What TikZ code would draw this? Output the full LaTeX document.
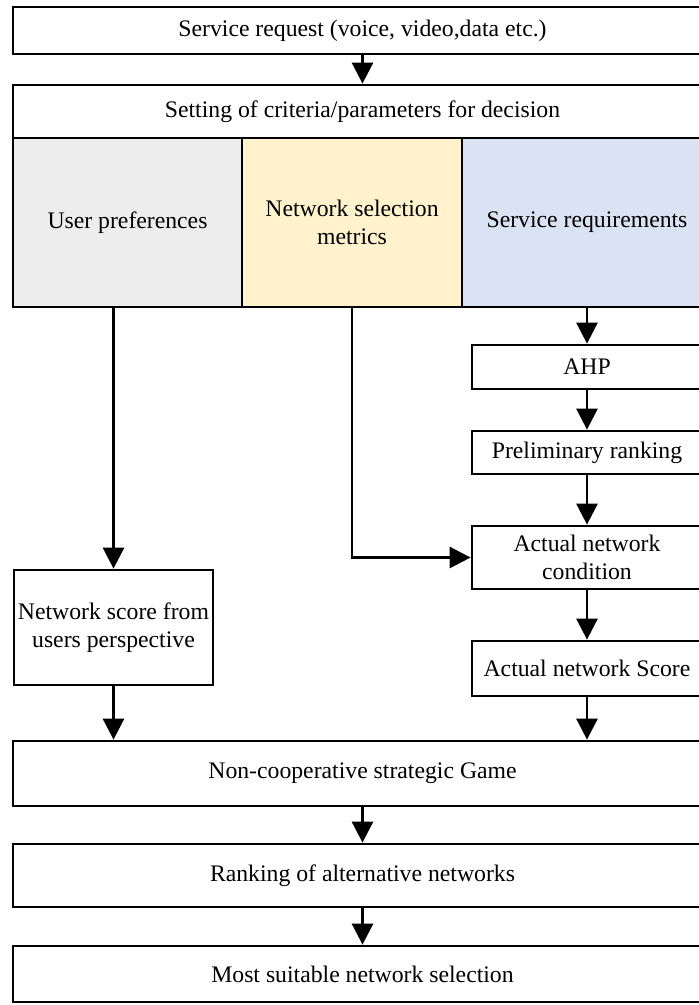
\documentclass[tikz,border=0pt]{standalone}
\usepackage{fontspec}
\setmainfont{Liberation Serif}
\usetikzlibrary{arrows.meta, positioning, calc}
\definecolor{prefgray}{RGB}{237, 237, 237}
\definecolor{metricyellow}{RGB}{255, 242, 204}
\definecolor{reqblue}{RGB}{218, 227, 243}

\begin{document}
\begin{tikzpicture}[
        x=0.02cm, y=-0.02cm,
        block/.style={draw, line width=1.6pt, inner sep=2pt, align=center, font=\fontsize{13.5}{16}\selectfont},
        wide/.style={block, minimum width=13.98cm},
        column/.style={block, minimum width=4.6cm},
        arrow/.style={-{Triangle[length=0.42cm, width=0.42cm]}, line width=1.6pt}
    ]
        \clip (0,0) rectangle (699,1005);

        % Request and criteria
        \node[wide, minimum height=0.94cm] (req) at (362.5, 30.5) {Service request (voice, video,data etc.)};
        \node[wide, minimum height=1.06cm] (crit) at (362.5, 111.5) {Setting of criteria/parameters for decision};

        \node[block, fill=prefgray, minimum width=4.58cm, minimum height=3.38cm] (pref) at (127.5, 222.5) {User preferences};
        \node[block, fill=metricyellow, minimum width=4.4cm, minimum height=3.38cm] (metric) at (352, 222.5) {Network selection\\metrics};
        \node[block, fill=reqblue, minimum width=5cm, minimum height=3.38cm] (servreq) at (587, 222.5) {Service requirements};

        % Right column
        \node[column, minimum height=0.88cm] (ahp) at (587, 367) {AHP};
        \node[column, minimum height=0.86cm] (prelim) at (587, 452.5) {Preliminary ranking};
        \node[column, minimum height=1.26cm] (cond) at (587, 557.5) {Actual network\\condition};
        \node[column, minimum height=1.1cm] (score) at (587, 668.5) {Actual network Score};

        % Left column
        \node[block, minimum width=3.98cm, minimum height=2.3cm] (users) at (113.5, 627.5) {Network score from\\users perspective};

        % Game and result
        \node[wide, minimum height=1.3cm] (game) at (362.5, 773.5) {Non-cooperative strategic Game};
        \node[wide, minimum height=1.26cm] (rank) at (362.5, 875.5) {Ranking of alternative networks};
        \node[wide, minimum height=1.12cm] (best) at (362.5, 974) {Most suitable network selection};

        % Arrows
        \draw[arrow] (req) -- (crit);
        \draw[arrow] (servreq) -- (ahp);
        \draw[arrow] (ahp) -- (prelim);
        \draw[arrow] (prelim) -- (cond);
        \draw[arrow] (cond) -- (score);
        \draw[arrow] (metric.south) |- (cond.west);
        \draw[arrow] (pref.south -| users) -- (users);
        \draw[arrow] (users) -- (users |- game.north);
        \draw[arrow] (score) -- (score |- game.north);
        \draw[arrow] (game) -- (rank);
        \draw[arrow] (rank) -- (best);
    \end{tikzpicture}
\end{document}
